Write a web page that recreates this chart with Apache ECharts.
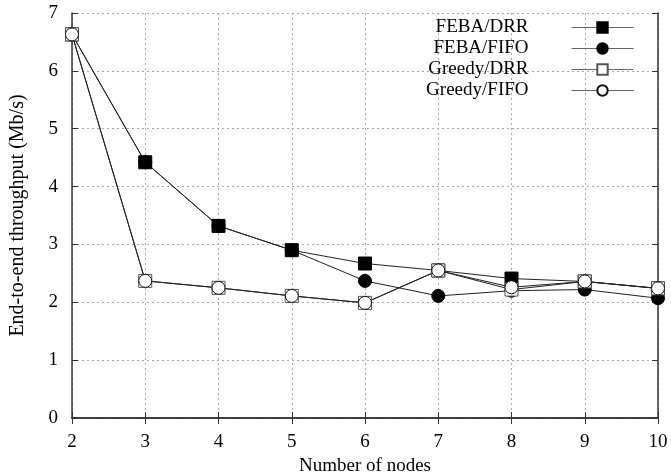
<!DOCTYPE html>
<html>
<head>
<meta charset="utf-8">
<script src="https://cdn.jsdelivr.net/npm/echarts@6/dist/echarts.min.js"></script>
<style>
html, body { margin: 0; padding: 0; background: #fff; }
#myChart { width: 671px; height: 476px; }
</style>
</head>
<body>
<div id="myChart"></div>
<script>
// x = number of nodes
var nodes = [2, 3, 4, 5, 6, 7, 8, 9, 10];
var febaDrr = [6.63, 4.42, 3.32, 2.90, 2.67, 2.55, 2.41, 2.36, 2.24];
var febaFifo = [6.63, 4.42, 3.32, 2.90, 2.37, 2.11, 2.20, 2.22, 2.07];
var greedyDrr = [6.63, 2.37, 2.25, 2.11, 1.99, 2.55, 2.22, 2.36, 2.24];
var greedyFifo = [6.63, 2.37, 2.25, 2.11, 1.99, 2.55, 2.26, 2.36, 2.24];
var seriesNames = ['FEBA/DRR', 'FEBA/FIFO', 'Greedy/DRR', 'Greedy/FIFO'];

var font = '"Liberation Serif", "DejaVu Serif", serif';

function pairs(ys) {
    return nodes.map(function (x, i) { return [x, ys[i]]; });
}

function makeSeries(name, ys, symbol, filled) {
    return {
        name: name,
        type: 'line',
        data: pairs(ys),
        symbol: symbol,
        symbolSize: 13,
        showAllSymbol: true,
        lineStyle: { color: '#222', width: 1 },
        itemStyle: {
            color: filled ? '#000' : '#fff',
            borderColor: filled ? '#000' : (symbol === 'rect' ? '#555' : '#111'),
            borderWidth: 1
        },
        emphasis: { disabled: true },
        animation: false
    };
}

var dom = document.getElementById("myChart");
var myChart = echarts.init(dom);
var option = {
    backgroundColor: '#fff',
    grid: {
        left: 72,
        right: 13,
        top: 13,
        bottom: 58,
        containLabel: false,
        outerBoundsMode: 'none'
    },
    legend: {
        data: seriesNames,
        orient: 'vertical',
        align: 'right',
        right: 37,
        top: 18,
        padding: 0,
        itemWidth: 62,
        itemHeight: 13,
        itemGap: 2,
        lineStyle: { color: '#666', width: 1 },
        textStyle: { fontFamily: font, fontSize: 19, color: '#000', padding: [0, 38, 0, 0] }
    },
    xAxis: [{
        type: 'value',
        min: 2,
        max: 10,
        interval: 1,
        name: 'Number of nodes',
        nameLocation: 'middle',
        nameGap: 35,
        nameTextStyle: { fontFamily: font, fontSize: 19, color: '#000' },
        axisLabel: { fontFamily: font, fontSize: 19, color: '#000', margin: 15 },
        axisLine: { show: true, lineStyle: { color: '#333', width: 1.5 } },
        axisTick: { show: true, inside: true, length: 6, lineStyle: { color: '#333' } },
        splitLine: { show: true, lineStyle: { color: '#aaa', type: [2, 3], width: 1 } }
    }, {
        type: 'value',
        position: 'top',
        min: 2,
        max: 10,
        interval: 1,
        axisLabel: { show: false },
        axisLine: { show: true, lineStyle: { color: '#333', width: 1.5 } },
        axisTick: { show: true, inside: true, length: 6, lineStyle: { color: '#333' } },
        splitLine: { show: false }
    }],
    yAxis: [{
        type: 'value',
        min: 0,
        max: 7,
        interval: 1,
        name: 'End-to-end throughput (Mb/s)',
        nameLocation: 'middle',
        nameGap: 44,
        nameTextStyle: { fontFamily: font, fontSize: 20, color: '#000' },
        axisLabel: { fontFamily: font, fontSize: 19, color: '#000', margin: 14 },
        axisLine: { show: true, lineStyle: { color: '#333', width: 1.5 } },
        axisTick: { show: true, inside: true, length: 6, lineStyle: { color: '#333' } },
        splitLine: { show: true, lineStyle: { color: '#aaa', type: [2, 3], width: 1 } }
    }, {
        type: 'value',
        position: 'right',
        min: 0,
        max: 7,
        interval: 1,
        axisLabel: { show: false },
        axisLine: { show: true, lineStyle: { color: '#333', width: 1.5 } },
        axisTick: { show: true, inside: true, length: 6, lineStyle: { color: '#333' } },
        splitLine: { show: false }
    }],
    series: [
        makeSeries(seriesNames[0], febaDrr, 'rect', true),
        makeSeries(seriesNames[1], febaFifo, 'circle', true),
        makeSeries(seriesNames[2], greedyDrr, 'rect', false),
        makeSeries(seriesNames[3], greedyFifo, 'circle', false)
    ]
};
if (option && typeof option === "object") {
    myChart.setOption(option, true);
}
window.addEventListener("resize", function () {
    myChart.resize();
});
</script>
</body>
</html>
